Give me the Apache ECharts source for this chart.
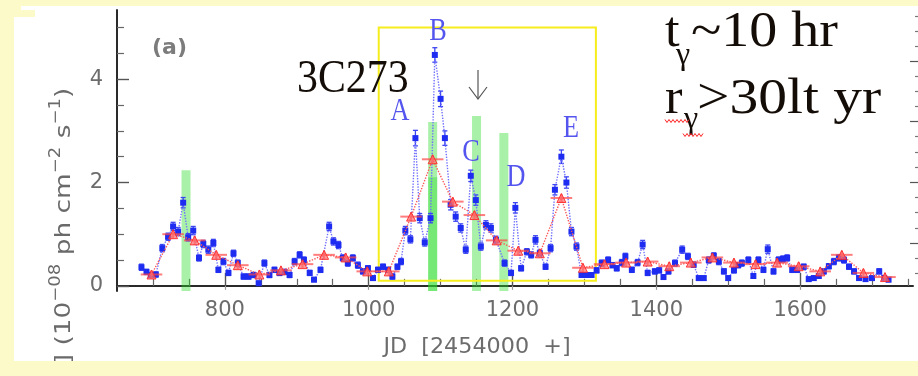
<!DOCTYPE html>
<html>
<head>
<meta charset="utf-8">
<script src="https://cdn.jsdelivr.net/npm/echarts@6/dist/echarts.min.js"></script>
<style>
  html, body { margin: 0; padding: 0; background: #fdfac9; }
  #chart { width: 918px; height: 376px; }
</style>
</head>
<body>
<div id="chart"></div>
<script>
// Axis ticks and labels
const xRange = [650, 1757];
const yRange = [-0.1, 5.34];
const xTickLabels = [800, 1000, 1200, 1400, 1600];
const xMinorStep = 50;
const yTickLabels = [0, 2, 4];
const yMinorStep = 0.5;
// neighbouring panel's axis on the right edge
const rightMajorTicks = [0.83, 2.01, 3.18, 4.34];
const rightMinorTicks = [0.25, 0.54, 1.12, 1.42, 1.71, 2.30, 2.59, 2.89, 3.47, 3.76, 4.05, 4.63, 4.92, 5.21];

// Weekly flux: [JD - 2454000, flux, error]
const weekly = [
  [684,0.36,0.06],[691,0.27,0.05],[697,0.21,0.05],[704,0.22,0.05],[713,0.73,0.07],[721,0.95,0.07],
  [728,1.15,0.08],[735,1.05,0.08],[742,1.61,0.10],[749,0.94,0.07],[756,1.07,0.08],[764,0.54,0.06],
  [770,0.81,0.07],[777,0.70,0.07],[784,0.83,0.07],[791,0.31,0.05],[798,0.47,0.06],[805,0.25,0.05],
  [812,0.63,0.06],[818,0.44,0.06],[826,0.18,0.05],[833,0.18,0.05],[840,0.21,0.05],[847,0.05,0.04],
  [855,0.44,0.06],[862,0.21,0.05],[869,0.31,0.05],[876,0.25,0.05],[883,0.27,0.05],[890,0.21,0.05],
  [897,0.47,0.06],[904,0.60,0.06],[910,0.50,0.06],[918,0.25,0.05],[924,0.12,0.04],[933,0.31,0.05],
  [945,1.15,0.08],[951,0.86,0.07],[958,0.79,0.07],[964,0.54,0.06],[971,0.44,0.06],[978,0.54,0.06],
  [985,0.40,0.06],[992,0.28,0.05],[999,0.34,0.05],[1006,0.15,0.04],[1013,0.31,0.05],[1020,0.37,0.05],
  [1027,0.31,0.05],[1033,0.18,0.05],[1040,0.37,0.05],[1045,0.47,0.06],[1051,1.07,0.08],[1058,0.90,0.07],
  [1065,2.86,0.15],[1071,1.31,0.09],[1078,0.84,0.07],[1086,1.31,0.09],[1092,4.47,0.14],[1100,3.62,0.15],
  [1106,2.86,0.14],[1114,1.57,0.10],[1121,1.34,0.09],[1128,1.12,0.08],[1135,0.70,0.07],[1142,2.13,0.11],
  [1149,1.66,0.10],[1156,0.76,0.07],[1163,1.18,0.08],[1170,1.12,0.08],[1177,0.89,0.07],[1189,0.44,0.06],
  [1198,0.25,0.05],[1204,1.51,0.10],[1212,0.34,0.05],[1220,0.66,0.06],[1226,0.60,0.06],[1232,0.89,0.08],
  [1238,0.63,0.06],[1246,0.37,0.05],[1253,0.73,0.07],[1259,1.86,0.10],[1268,2.50,0.13],[1275,2.00,0.11],
  [1282,1.05,0.08],[1289,0.76,0.07],[1296,0.21,0.04],[1303,0.21,0.04],[1310,0.21,0.04],[1317,0.30,0.05],
  [1324,0.44,0.06],[1333,0.50,0.06],[1339,0.40,0.05],[1345,0.34,0.05],[1352,0.45,0.06],[1357,0.57,0.06],
  [1366,0.31,0.05],[1374,0.45,0.06],[1381,0.80,0.08],[1388,0.25,0.05],[1398,0.28,0.05],[1404,0.30,0.05],
  [1410,0.17,0.04],[1417,0.28,0.05],[1426,0.44,0.06],[1436,0.70,0.07],[1444,0.57,0.06],[1452,0.41,0.05],
  [1459,0.15,0.04],[1466,0.15,0.04],[1473,0.50,0.06],[1480,0.58,0.06],[1487,0.47,0.06],[1494,0.28,0.05],
  [1500,0.15,0.04],[1508,0.30,0.05],[1514,0.40,0.05],[1519,0.44,0.06],[1528,0.50,0.06],[1535,0.19,0.04],
  [1542,0.50,0.06],[1549,0.31,0.05],[1555,0.71,0.08],[1563,0.28,0.05],[1570,0.50,0.06],[1576,0.52,0.06],
  [1582,0.54,0.06],[1589,0.31,0.05],[1596,0.31,0.05],[1605,0.37,0.05],[1612,0.13,0.04],[1619,0.15,0.04],
  [1626,0.19,0.04],[1633,0.28,0.05],[1640,0.38,0.05],[1647,0.47,0.06],[1654,0.54,0.06],[1661,0.50,0.06],
  [1668,0.37,0.05],[1675,0.28,0.05],[1682,0.15,0.04],[1691,0.13,0.04],[1700,0.15,0.04],[1710,0.28,0.05],
  [1717,0.15,0.04],[1723,0.12,0.04]
];

// Monthly flux: [JD - 2454000, flux]
const monthly = [
  [698,0.22],[728,1.00],[758,0.88],[788,0.60],[818,0.40],[848,0.22],[878,0.30],[908,0.42],
  [938,0.60],[968,0.55],[998,0.28],[1028,0.28],[1059,1.34],[1089,2.45],[1117,1.63],[1147,1.37],
  [1178,0.88],[1208,0.68],[1238,0.63],[1268,1.70],[1298,0.35],[1328,0.42],[1358,0.45],[1388,0.47],
  [1418,0.38],[1448,0.45],[1478,0.55],[1508,0.45],[1538,0.42],[1568,0.45],[1598,0.38],[1628,0.28],
  [1658,0.60],[1688,0.25],[1718,0.17]
];
const monthHalfWidth = 15;

// Short-timescale events: [JD - 2454000, height]
const events = [[746, 2.24], [1089, 3.17], [1089, 2.10], [1150, 3.29], [1188, 2.96]];

// Flaring period: [x0, y0, x1, y1]
const flarePeriod = [[1014, 0.1, 1316, 5.0]];

function range(a, b, step) {
  const out = [];
  for (let v = a; v <= b + 1e-9; v += step) out.push(Math.round(v * 1000) / 1000);
  return out;
}
const xMinorTicks = range(700, 1750, xMinorStep).filter(v => xTickLabels.indexOf(v) < 0);
const yMinorTicks = range(0, 5, yMinorStep).filter(v => yTickLabels.indexOf(v) < 0);

const tickFont = { color: '#6c6c6c', fontFamily: 'DejaVu Sans', fontSize: 21, formatter: v => String(v) };

const chart = echarts.init(document.getElementById('chart'), null, { renderer: 'canvas' });

function bandItem(params, api) {
  const x = api.value(0), h = api.value(1);
  const top = api.coord([x, h]);
  const bot = api.coord([x, yRange[0]]);
  const w = 9;
  return {
    type: 'rect',
    shape: { x: top[0] - w / 2, y: top[1], width: w, height: bot[1] - top[1] },
    style: { fill: 'rgba(40,220,40,0.40)' }
  };
}

function boxItem(params, api) {
  const a = api.coord([api.value(0), api.value(3)]);
  const b = api.coord([api.value(2), api.value(1)]);
  return {
    type: 'rect',
    shape: { x: a[0], y: a[1], width: b[0] - a[0], height: b[1] - a[1] },
    style: { fill: 'none', stroke: '#f6ee1c', lineWidth: 2 }
  };
}

function weeklyErrItem(params, api) {
  const x = api.value(0), y = api.value(1), e = api.value(2);
  const lo = api.coord([x, y - e]), hi = api.coord([x, y + e]);
  const st = { stroke: '#3b45f2', lineWidth: 1.3 };
  const c = 2.5;
  return {
    type: 'group',
    children: [
      { type: 'line', shape: { x1: lo[0], y1: lo[1], x2: hi[0], y2: hi[1] }, style: st },
      { type: 'line', shape: { x1: lo[0] - c, y1: lo[1], x2: lo[0] + c, y2: lo[1] }, style: st },
      { type: 'line', shape: { x1: hi[0] - c, y1: hi[1], x2: hi[0] + c, y2: hi[1] }, style: st }
    ]
  };
}

function monthlyErrItem(params, api) {
  const x = api.value(0), y = api.value(1);
  const l = api.coord([x - monthHalfWidth, y]), r = api.coord([x + monthHalfWidth, y]);
  const lo = api.coord([x, y - 0.08]), hi = api.coord([x, y + 0.08]);
  const st = { stroke: 'rgba(255,70,70,0.7)', lineWidth: 2 };
  return {
    type: 'group',
    children: [
      { type: 'line', shape: { x1: l[0], y1: l[1], x2: r[0], y2: r[1] }, style: st },
      { type: 'line', shape: { x1: lo[0], y1: lo[1], x2: hi[0], y2: hi[1] }, style: st }
    ]
  };
}

function zigzag(x0, x1, y) {
  const pts = [];
  let up = true;
  for (let x = x0; x <= x1; x += 2) { pts.push([x, up ? y - 1.5 : y + 1.5]); up = !up; }
  return pts;
}

const letterStyle = (t, x, y) => ({
  type: 'text', x: x, y: y, scaleX: 0.82, z: 50,
  style: { text: t, fill: '#5454ee', font: '32px "Liberation Serif"',
           align: 'center', verticalAlign: 'middle', textAlign: 'center', textVerticalAlign: 'middle' }
});

const serif = (t, x, y, size, sx) => ({
  type: 'text', x: x, y: y, scaleX: sx || 1, z: 50,
  style: { text: t, fill: '#140c06', font: size + 'px "Liberation Serif"',
           align: 'left', verticalAlign: 'middle', textAlign: 'left', textVerticalAlign: 'middle' }
});

const yellow = '#fdfac9';

chart.setOption({
  backgroundColor: '#ffffff',
  animation: false,
  grid: { left: 117, right: 5, top: 10, bottom: 85, containLabel: false },
  xAxis: [
    {
      type: 'value', min: xRange[0], max: xRange[1], position: 'bottom',
      axisLine: { show: true, lineStyle: { color: '#2a2a2a', width: 2 } },
      axisTick: { show: true, inside: true, length: 13, customValues: xTickLabels, lineStyle: { color: '#555', width: 1.4 } },
      axisLabel: Object.assign({ customValues: xTickLabels, margin: 9 }, tickFont),
      splitLine: { show: false }
    },
    {
      type: 'value', min: xRange[0], max: xRange[1], position: 'bottom',
      axisLine: { show: false },
      axisTick: { show: true, inside: true, length: 7, customValues: xMinorTicks, lineStyle: { color: '#666', width: 1.2 } },
      axisLabel: { show: false }, splitLine: { show: false }
    },
    {
      type: 'value', min: xRange[0], max: xRange[1], position: 'top',
      axisLine: { show: false },
      axisTick: { show: true, inside: true, length: 4, customValues: xTickLabels, lineStyle: { color: '#999', width: 1.2 } },
      axisLabel: { show: false }, splitLine: { show: false }
    }
  ],
  yAxis: [
    {
      type: 'value', min: yRange[0], max: yRange[1], position: 'left',
      axisLine: { show: true, lineStyle: { color: '#2a2a2a', width: 2 } },
      axisTick: { show: true, inside: true, length: 12, customValues: yTickLabels, lineStyle: { color: '#555', width: 1.4 } },
      axisLabel: Object.assign({ customValues: yTickLabels, margin: 14 }, tickFont),
      splitLine: { show: false }
    },
    {
      type: 'value', min: yRange[0], max: yRange[1], position: 'left',
      axisLine: { show: false },
      axisTick: { show: true, inside: true, length: 7, customValues: yMinorTicks, lineStyle: { color: '#666', width: 1.2 } },
      axisLabel: { show: false }, splitLine: { show: false }
    },
    {
      type: 'value', min: yRange[0], max: yRange[1], position: 'right', offset: 5,
      axisLine: { show: false },
      axisTick: { show: true, inside: true, length: 8, customValues: rightMajorTicks, lineStyle: { color: '#555', width: 1.2 } },
      axisLabel: { show: false }, splitLine: { show: false }
    },
    {
      type: 'value', min: yRange[0], max: yRange[1], position: 'right', offset: 5,
      axisLine: { show: false },
      axisTick: { show: true, inside: true, length: 3, customValues: rightMinorTicks, lineStyle: { color: '#777', width: 1.2 } },
      axisLabel: { show: false }, splitLine: { show: false }
    }
  ],
  series: [
    { type: 'custom', name: 'events', renderItem: bandItem, data: events, encode: { x: 0, y: 1 }, z: 1, clip: true },
    { type: 'custom', name: 'flare period', renderItem: boxItem, data: flarePeriod, encode: { x: [0, 2], y: [1, 3] }, z: 1 },
    { type: 'custom', name: 'weekly errors', renderItem: weeklyErrItem, data: weekly, encode: { x: 0, y: 1 }, z: 2 },
    {
      type: 'line', name: 'weekly', data: weekly.map(d => [d[0], d[1]]), z: 3,
      symbol: 'rect', symbolSize: 6, showSymbol: true,
      itemStyle: { color: '#1d2cf0' },
      lineStyle: { type: 'dotted', color: '#6f6fff', width: 1.4 }
    },
    { type: 'custom', name: 'monthly errors', renderItem: monthlyErrItem, data: monthly, encode: { x: 0, y: 1 }, z: 4 },
    {
      type: 'line', name: 'monthly', data: monthly, z: 5,
      symbol: 'triangle', symbolSize: 9, showSymbol: true,
      itemStyle: { color: 'rgba(255,110,110,0.7)', borderColor: 'rgba(255,40,40,0.9)', borderWidth: 1 },
      lineStyle: { type: 'dotted', color: '#ff5656', width: 1.4 }
    }
  ],
  graphic: [
    // slide margins
    { type: 'rect', z: 100, shape: { x: 0, y: 0, width: 14, height: 376 }, style: { fill: yellow } },
    { type: 'rect', z: 100, shape: { x: 0, y: 0, width: 918, height: 6 }, style: { fill: yellow } },
    { type: 'rect', z: 100, shape: { x: 14, y: 6, width: 7, height: 11 }, style: { fill: yellow } },
    { type: 'rect', z: 100, shape: { x: 21, y: 10, width: 14, height: 7 }, style: { fill: yellow } },
    { type: 'rect', z: 100, shape: { x: 0, y: 361, width: 918, height: 15 }, style: { fill: yellow } },
    // vertical axis title
    {
      type: 'text', x: 62, y: 226, rotation: Math.PI / 2, scaleX: 1.2, z: 50,
      style: {
        text: '{n|] (10}{s|\u221208}{n| ph cm}{s|\u22122}{n| s}{s|\u22121}{n|)}',
        fill: '#6a6a6a', font: '22px "DejaVu Sans"',
        align: 'center', verticalAlign: 'middle', textAlign: 'center', textVerticalAlign: 'middle',
        rich: {
          n: { fontSize: 22, fontFamily: 'DejaVu Sans', fill: '#6a6a6a', lineHeight: 26, verticalAlign: 'bottom' },
          s: { fontSize: 15, fontFamily: 'DejaVu Sans', fill: '#6a6a6a', lineHeight: 15, verticalAlign: 'top' }
        }
      }
    },
    // horizontal axis title
    {
      type: 'text', x: 477, y: 348, scaleX: 1.06, z: 50,
      style: { text: 'JD  [2454000  +]', fill: '#6c6c6c', font: '21px "DejaVu Sans"',
               align: 'center', verticalAlign: 'middle', textAlign: 'center', textVerticalAlign: 'middle' }
    },
    // panel tag
    {
      type: 'text', x: 152, y: 48, z: 50,
      style: { text: '(a)', fill: '#7c7c7c', font: 'bold 22px "DejaVu Sans"',
               align: 'left', verticalAlign: 'middle', textAlign: 'left', textVerticalAlign: 'middle' }
    },
    serif('3C273', 297, 80, 47, 0.89),
    // t_gamma ~ 10 hr
    serif('t', 665, 33, 50, 1.05),
    serif('\u03b3', 676, 56, 32, 1.0),
    serif('~10 hr', 691, 33, 50, 1.12),
    // r_gamma > 30 lt yr
    serif('r', 665, 100, 50, 1.05),
    serif('\u03b3', 684, 120, 32, 1.0),
    serif('>30lt yr', 697, 100, 50, 1.15),
    { type: 'polyline', z: 51, shape: { points: zigzag(665, 690, 121) }, style: { stroke: '#ff2020', lineWidth: 1, fill: 'none' } },
    { type: 'polyline', z: 51, shape: { points: zigzag(683, 704, 135) }, style: { stroke: '#ff2020', lineWidth: 1, fill: 'none' } },
    // flare names
    letterStyle('A', 400, 112),
    letterStyle('B', 438, 32),
    letterStyle('C', 471, 153),
    letterStyle('D', 516, 178),
    letterStyle('E', 571, 129),
    // arrow marking the event at C
    { type: 'line', z: 50, shape: { x1: 478, y1: 70, x2: 478, y2: 99 }, style: { stroke: '#555', lineWidth: 1.2 } },
    { type: 'polyline', z: 50, shape: { points: [[469, 87], [478, 99], [487, 87]] }, style: { stroke: '#555', lineWidth: 1.2, fill: 'none' } }
  ]
});
</script>
</body>
</html>
